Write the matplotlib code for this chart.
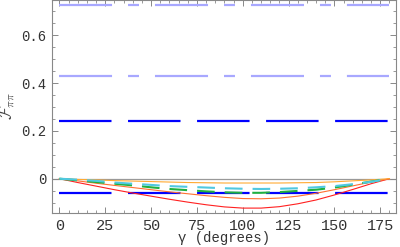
import matplotlib
matplotlib.use("Agg")
import matplotlib.pyplot as plt
from matplotlib.ticker import MultipleLocator

plt.rcParams['lines.scale_dashes'] = False
plt.rcParams['mathtext.fontset'] = 'cm'

# levels of the flat reference lines
light_levels = [0.727, 0.43]
dark_levels = [0.241, -0.06]
gamma_line = [0, 180]

# curves
gamma = [0, 10, 20, 30, 40, 50, 60, 70, 80, 90, 100, 110, 120, 130, 140, 150, 160, 170, 180]
red = [0, -0.016, -0.031, -0.046, -0.060, -0.073, -0.086, -0.098, -0.109, -0.118, -0.123,
       -0.123, -0.117, -0.105, -0.089, -0.068, -0.045, -0.021, 0]
orange_red = [0, -0.009, -0.019, -0.028, -0.037, -0.046, -0.055, -0.063, -0.071, -0.078, -0.083,
              -0.084, -0.081, -0.073, -0.061, -0.046, -0.030, -0.014, 0]
orange = [0, -0.003, -0.005, -0.008, -0.010, -0.012, -0.014, -0.016, -0.017, -0.018, -0.018,
          -0.018, -0.018, -0.017, -0.016, -0.013, -0.009, -0.005, 0]
green = [0, -0.007, -0.014, -0.021, -0.028, -0.036, -0.043, -0.048, -0.053, -0.057, -0.059,
         -0.059, -0.056, -0.051, -0.046, -0.037, -0.025, -0.012, 0]
cyan = [0, -0.004, -0.009, -0.016, -0.021, -0.026, -0.031, -0.034, -0.037, -0.040, -0.042,
        -0.043, -0.042, -0.040, -0.036, -0.031, -0.023, -0.013, 0]

fig = plt.figure(figsize=(4, 2.47), dpi=100)
ax = fig.add_axes([51.7/400, 34/247, 343.8/400, 213/247])

ax.axhline(0, color='#999999', lw=0.9, zorder=1)

for lv in light_levels:
    ax.plot(gamma_line, [lv, lv], color='#a8a8ff', lw=1.6, dash_capstyle='butt',
            linestyle=(0, (38.2, 11.5, 7.9, 11.5)))
for lv in dark_levels:
    ax.plot(gamma_line, [lv, lv], color='#0000ff', lw=1.6, dash_capstyle='butt',
            linestyle=(0, (37.8, 11.9)))

ax.plot(gamma, red, color='#ff2020', lw=0.8)
ax.plot(gamma, orange_red, color='#ff7030', lw=0.8)
ax.plot(gamma, orange, color='#ffaa33', lw=0.8)
ax.plot(gamma, green, color='#20b040', lw=1.5, dash_capstyle='butt', linestyle=(0, (12.7, 7.2)))
ax.plot(gamma, cyan, color='#50c8e0', lw=1.5, dash_capstyle='butt', linestyle=(0, (12.7, 7.2)))

ax.set_xlim(-4.2, 183.3)
ax.set_ylim(-0.1435, 0.7477)

ax.xaxis.set_major_locator(MultipleLocator(25))
ax.xaxis.set_minor_locator(MultipleLocator(5))
ax.set_yticks([0, 0.2, 0.4, 0.6])
ax.set_yticklabels(['0', '0.2', '0.4', '0.6'])
ax.yaxis.set_minor_locator(MultipleLocator(0.05))

ax.tick_params(which='both', direction='in', top=True, right=True, color='#888888',
               labelcolor='#333333', pad=4)
ax.tick_params(axis='x', labelsize=11)
ax.tick_params(axis='y', labelsize=10)
ax.tick_params(which='major', length=4, width=0.7)
ax.tick_params(which='minor', length=2, width=0.6)
for lab in ax.get_xticklabels() + ax.get_yticklabels():
    lab.set_family('Liberation Mono')

for sp in ax.spines.values():
    sp.set_color('#888888')
    sp.set_linewidth(0.8)

ax.set_xlabel('γ (degrees)', family='Liberation Mono', fontsize=10, color='#333333')
ax.xaxis.set_label_coords(0.5, -0.085)
ax.set_ylabel(r'$\mathcal{F}_{\pi\pi}$', fontsize=12, color='#444444')
ax.yaxis.set_label_coords(-0.1, 0.5)

fig.savefig('out.png', dpi=100)
